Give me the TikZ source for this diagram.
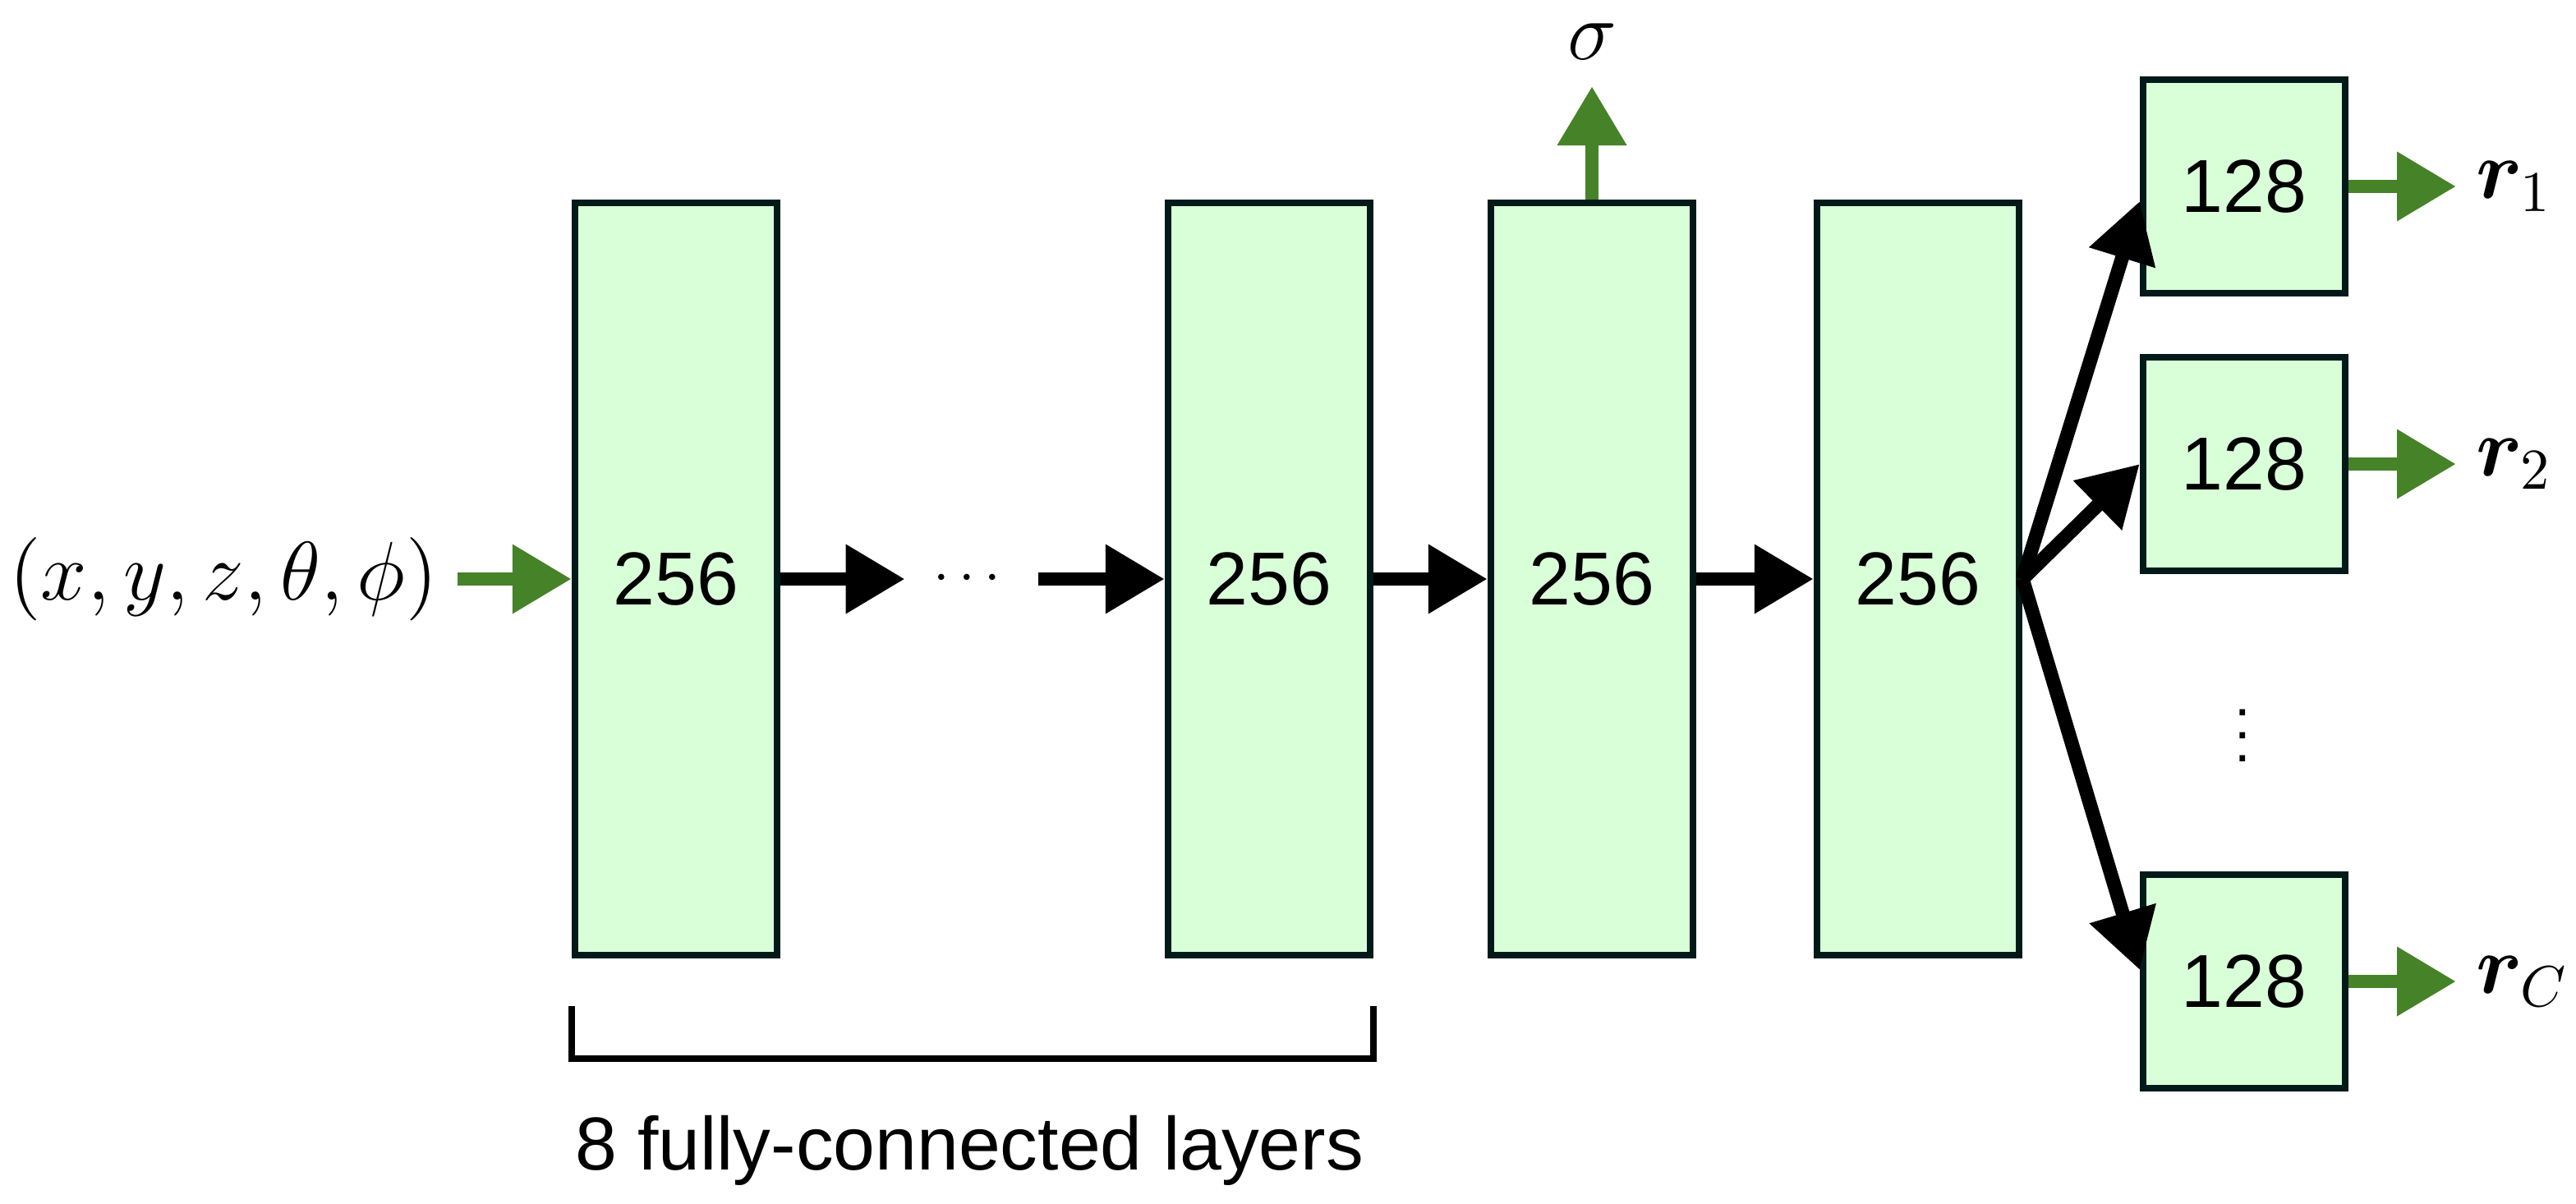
\documentclass[tikz,border=0pt]{standalone}
\usepackage{fontspec}
\setmainfont{Liberation Sans}
\usepackage{amsmath}
\usepackage{bm}
\usetikzlibrary{arrows.meta, positioning}
\definecolor{verdeosc}{RGB}{70,130,40}
\begin{document}
\begin{tikzpicture}

	\tikzstyle{capa}=[draw=black!80!teal, line width=1.2pt, fill=green!15!white, minimum width=1.23cm, minimum height=4.58cm, inner sep=0pt, font=\fontsize{13}{15}\selectfont]
	\tikzstyle{sal}=[capa, minimum height=1.3cm]
	\tikzstyle{flecha}=[line width=2.4pt, -{Triangle[length=0.36cm, width=0.4cm]}]
	\tikzstyle{verde}=[flecha, verdeosc]

	\useasboundingbox (0, 0) rectangle (15.68, 7.325);

	\coordinate (c_1) at (4.115, 3.8); % CAPAS
	\coordinate (c_2) at (7.725, 3.8);
	\coordinate (c_3) at (9.69, 3.8);
	\coordinate (c_4) at (11.675, 3.8);
	\coordinate (s_1) at (13.66, 6.19); % SALIDAS
	\coordinate (s_2) at (13.66, 4.5);
	\coordinate (s_3) at (13.66, 1.35);

	\node[capa] (c_1) at (c_1) {256};
	\node[capa] (c_2) at (c_2) {256};
	\node[capa] (c_3) at (c_3) {256};
	\node[capa] (c_4) at (c_4) {256};
	\node[sal] (s_1) at (s_1) {128};
	\node[sal] (s_2) at (s_2) {128};
	\node[sal] (s_3) at (s_3) {128};

	\node[font=\fontsize{14.5}{16}\selectfont] (in) at (1.36, 3.8) {$(x,y,z,\theta,\phi)$};
	\node[inner sep=0pt, minimum width=0.8cm, minimum height=0.3cm] (dots) at (5.915, 3.8) {$\cdots$};
	\node (vdots) at (13.65, 2.95) {$\vdots$};
	\node[font=\fontsize{14.5}{16}\selectfont] (sigma) at (9.69, 7.07) {$\sigma$};
	\node[font=\fontsize{14.5}{16}\selectfont, anchor=west] (r_1) at (14.95, 6.19) {$\bm{r}_1$};
	\node[font=\fontsize{14.5}{16}\selectfont, anchor=west] (r_2) at (14.95, 4.5) {$\bm{r}_2$};
	\node[font=\fontsize{14.5}{16}\selectfont, anchor=west] (r_3) at (14.95, 1.35) {$\bm{r}_C$};

	\coordinate (top_s) at (9.69, 6.8);

	\draw[verde] (in) -- (c_1);
	\draw[flecha] (c_1.east) -- (dots.west);
	\draw[flecha] (dots.east) -- (c_2.west);
	\draw[flecha] (c_2) -- (c_3);
	\draw[flecha] (c_3) -- (c_4);
	\draw[verde] (c_3.north) -- (top_s);

	\draw[flecha] (c_4.east) -- (s_1.north west |- 0, 6.1);
	\draw[flecha] (c_4.east) -- (s_2.west);
	\draw[flecha] (c_4.east) -- (s_3.north west |- 0, 1.42);

	\draw[verde] (s_1) -- (r_1);
	\draw[verde] (s_2) -- (r_2);
	\draw[verde] (s_3) -- (r_3);

	\draw[line width=1.2pt] (c_1.south west |- 0, 1.2) -- ++(0, -0.32) -| (c_2.south east |- 0, 1.2);
	\node[font=\fontsize{13}{15}\selectfont] (capas) at (5.9, 0.32) {8 fully-connected layers};
\end{tikzpicture}
\end{document}
